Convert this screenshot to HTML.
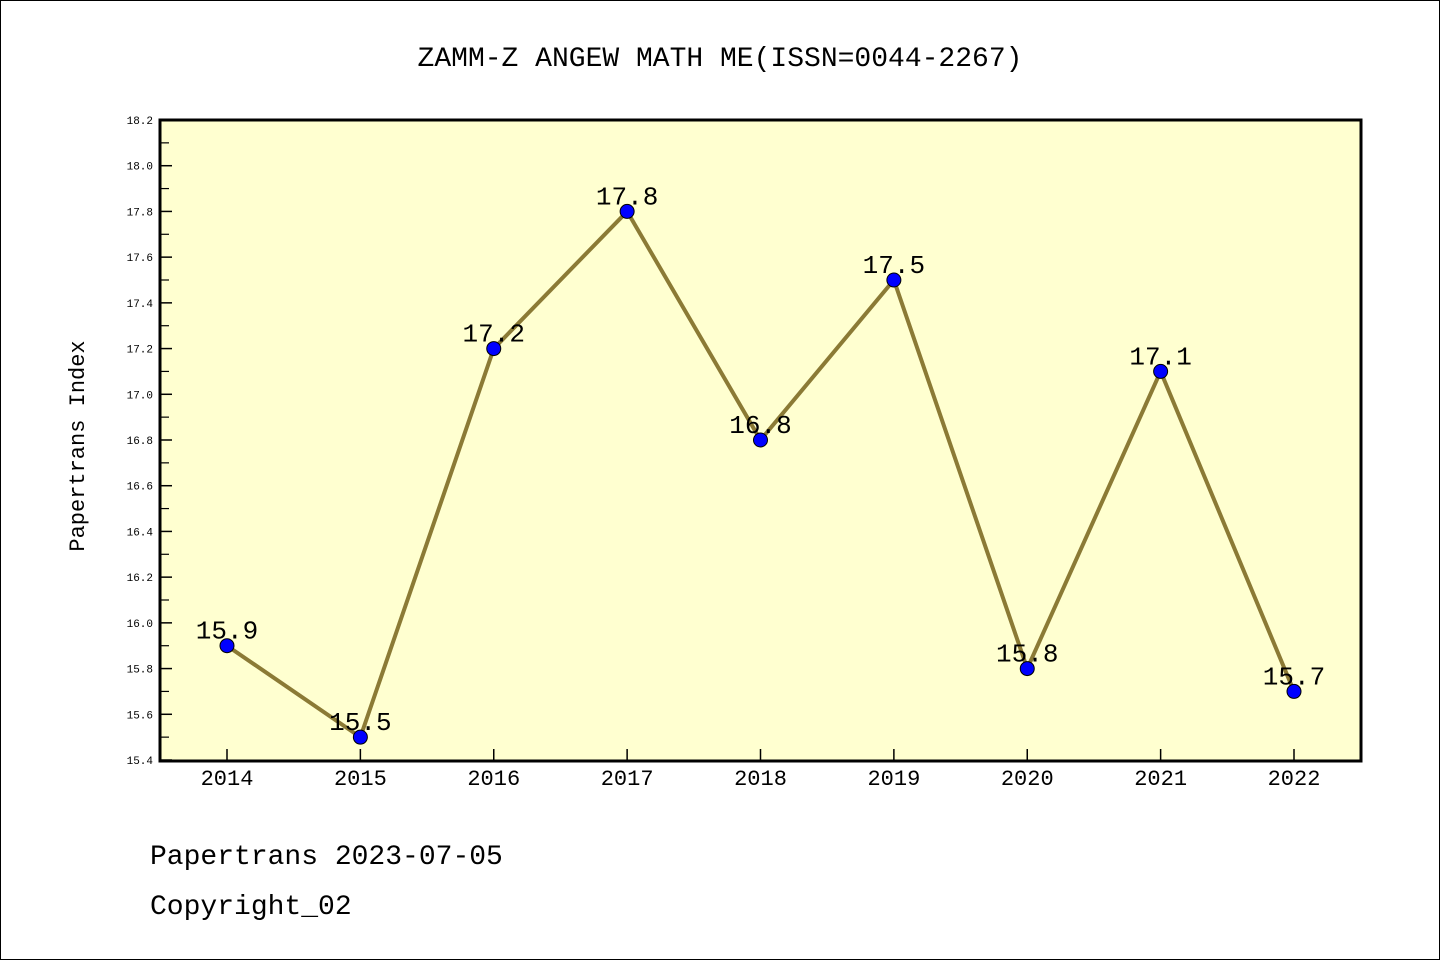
<!DOCTYPE html>
<html><head><meta charset="utf-8"><style>
html,body{margin:0;padding:0;background:#fff}
svg{display:block}
text{font-family:"WenQuanYi Zen Hei","Liberation Mono",monospace}
</style></head><body>
<svg id="chart" width="1440" height="960">
<rect x="0.5" y="0.5" width="1439" height="959" fill="#fff" stroke="#000"/>
<text x="720" y="66" text-anchor="middle" font-size="28">ZAMM-Z ANGEW MATH ME(ISSN=0044-2267)</text>
<rect x="160" y="120" width="1201" height="641" fill="#ffffd0"/>
<g id="axes"></g>
<g id="series"></g>
<rect x="160" y="120" width="1201" height="641" fill="none" stroke="#000" stroke-width="3"/>
<text transform="translate(84,446) rotate(-90)" text-anchor="middle" font-size="22">Papertrans Index</text>
<text x="150" y="864" font-size="28">Papertrans 2023-07-05</text>
<text x="150" y="914" font-size="28">Copyright_02</text>
</svg>
<script>
const years = ["2014","2015","2016","2017","2018","2019","2020","2021","2022"];
const values = [15.9,15.5,17.2,17.8,16.8,17.5,15.8,17.1,15.7];
const yTicks = ["15.4","15.6","15.8","16.0","16.2","16.4","16.6","16.8","17.0","17.2","17.4","17.6","17.8","18.0","18.2"];
const yMin = 15.4, yMax = 18.2;
const NS = "http://www.w3.org/2000/svg";
function X(i){return 227 + i*(1294-227)/(years.length-1);}
function Y(v){return 760 - (v-yMin)/(yMax-yMin)*640;}
function mk(tag, attrs, parent){const e=document.createElementNS(NS,tag);for(const k in attrs)e.setAttribute(k,attrs[k]);parent.appendChild(e);return e;}
const axes=document.getElementById('axes'), series=document.getElementById('series');
yTicks.forEach(t=>{
  const v=parseFloat(t), y=Y(v);
  const l=mk('line',{x1:160,x2:172,y1:y,y2:y,stroke:'#000','stroke-width':1.5},axes);
  
  
  const tx=mk('text',{x:153,y:y+4,'text-anchor':'end','font-size':11},axes);
  tx.textContent=t;
  
  
  if(v<yMax-0.01){
    const ym=Y(v+0.1);
    const m=mk('line',{x1:160,x2:169,y1:ym,y2:ym,stroke:'#000','stroke-width':1.2},axes);
    
    
  }
});
years.forEach((yr,i)=>{
  const x=X(i);
  const l=mk('line',{x1:x,x2:x,y1:761,y2:749,stroke:'#000','stroke-width':1.5},axes);
  
  
  const tx=mk('text',{x:x,y:785,'text-anchor':'middle','font-size':22},axes);
  tx.textContent=yr;
  
  
});
const pts=values.map((v,i)=>X(i)+','+Y(v)).join(' ');
const pl=mk('polyline',{points:pts,fill:'none',stroke:'#8b7a35','stroke-width':4},series);


values.forEach((v,i)=>{
  const c=mk('circle',{cx:X(i),cy:Y(v),r:7,fill:'#0000ff',stroke:'#000','stroke-width':1},series);
  
  
  const t=mk('text',{x:X(i),y:Y(v)-7,'text-anchor':'middle','font-size':26},series);
  t.textContent=v.toFixed(1);
  
  
});
</script>
</body></html>
